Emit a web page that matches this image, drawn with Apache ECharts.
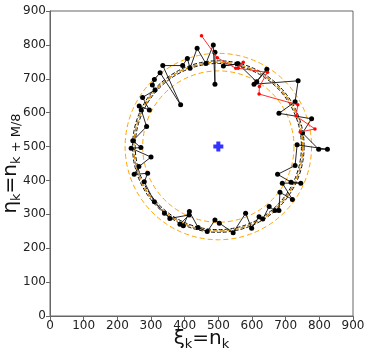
<!DOCTYPE html>
<html>
<head>
<meta charset="utf-8">
<script src="https://cdn.jsdelivr.net/npm/echarts@6/dist/echarts.min.js"></script>
<style>
  html, body { margin: 0; padding: 0; background: #fff; }
  #chart { width: 371px; height: 354px; }
</style>
</head>
<body>
<div id="chart"></div>
<script>
// centre of the ring
var centre = [500, 500];
// dashed reference circles (radius)
var outerRings = [224, 276];
var bandBlack = [246, 254];
var bandOrange = [250];

// black trajectory (xi, eta)
var xiBlack = [490, 490, 485, 463, 437, 416, 408, 394, 335, 388, 327, 310, 304, 312, 275, 295, 265, 271, 287, 246,
  270, 241, 300, 264, 250, 290, 280, 310, 340, 356, 413, 386, 396, 414, 440, 467, 490, 503, 544, 581,
  599, 621, 632, 651, 668, 680, 683, 720, 690, 745, 716, 676, 728, 734, 824, 798, 750, 777, 680, 728,
  737, 606, 644, 614, 559, 515, 556];
var etaBlack = [778, 684, 800, 745, 790, 731, 760, 739, 739, 623, 718, 698, 682, 667, 645, 608, 620, 608, 559, 517,
  497, 495, 469, 441, 418, 421, 396, 337, 303, 288, 298, 271, 266, 308, 261, 249, 283, 274, 246, 303,
  259, 293, 286, 323, 311, 311, 365, 344, 392, 392, 395, 418, 444, 505, 492, 492, 540, 582, 598, 632,
  694, 684, 728, 691, 744, 738, 744];

// red trajectory
var xiRed = [450, 497, 552, 574, 559, 646, 622, 621, 736, 731, 787, 743];
var etaRed = [827, 762, 731, 749, 731, 719, 677, 655, 623, 590, 552, 543];

function pairs(xs, ys) {
  var out = [];
  for (var i = 0; i < xs.length; i++) out.push([xs[i], ys[i]]);
  return out;
}

function ringSeries(radii, color, width, dash, z) {
  var data = [];
  for (var i = 0; i < radii.length; i++) data.push([centre[0], centre[1], radii[i]]);
  return {
    type: 'custom',
    z: z,
    silent: true,
    data: data,
    renderItem: function (params, api) {
      var c = api.coord([api.value(0), api.value(1)]);
      var s = api.size([api.value(2), api.value(2)]);
      return {
        type: 'circle',
        shape: { cx: c[0], cy: c[1], r: (s[0] + s[1]) / 2 },
        style: { fill: 'none', stroke: color, lineWidth: width, lineDash: dash }
      };
    }
  };
}

var chart = echarts.init(document.getElementById('chart'));
chart.setOption({
  animation: false,
  grid: {
    left: 50, right: 18, top: 11, bottom: 38,
    containLabel: false, outerBoundsMode: 'none',
    show: true, borderColor: '#666', borderWidth: 1
  },
  xAxis: {
    type: 'value', min: 0, max: 900, interval: 100,
    name: 'ξ{s|k}=n{s|k}', nameLocation: 'middle', nameGap: 10, nameMoveOverlap: false,
    nameTextStyle: {
      fontFamily: 'DejaVu Sans', fontSize: 20, color: '#111',
      rich: { s: { fontFamily: 'DejaVu Sans', fontSize: 13, color: '#111', verticalAlign: 'bottom', padding: [12, 0, 0, 0] } }
    },
    axisLine: { show: true, onZero: false, lineStyle: { color: '#666' } },
    axisTick: { show: true, length: 4, lineStyle: { color: '#666' } },
    axisLabel: { fontFamily: 'DejaVu Sans', fontSize: 12, color: '#222', margin: 4 },
    splitLine: { show: false }
  },
  yAxis: {
    type: 'value', min: 0, max: 900, interval: 100,
    name: 'η{s|k}=n{s|k + M/8}', nameLocation: 'middle', nameGap: 27, nameMoveOverlap: false,
    nameTextStyle: {
      fontFamily: 'DejaVu Sans', fontSize: 20, color: '#111',
      rich: { s: { fontFamily: 'DejaVu Sans', fontSize: 13, color: '#111', verticalAlign: 'bottom', padding: [12, 0, 0, 0] } }
    },
    axisLine: { show: true, onZero: false, lineStyle: { color: '#666' } },
    axisTick: { show: true, length: 4, lineStyle: { color: '#666' } },
    axisLabel: { fontFamily: 'DejaVu Sans', fontSize: 12, color: '#222', margin: 4 },
    splitLine: { show: false }
  },
  series: [
    ringSeries(outerRings, '#ffa500', 1, [5, 3], 1),
    ringSeries(bandBlack, '#111', 1, [4, 2], 2),
    ringSeries(bandOrange, '#d08a00', 1.3, [5, 2], 3),
    {
      type: 'line', z: 4,
      data: pairs(xiBlack, etaBlack),
      symbol: 'circle', symbolSize: 5,
      itemStyle: { color: '#000' },
      lineStyle: { color: '#111', width: 0.9 }
    },
    {
      type: 'line', z: 5,
      data: pairs(xiRed, etaRed),
      symbol: 'circle', symbolSize: 3.5,
      itemStyle: { color: '#ff0000' },
      lineStyle: { color: '#ff1a1a', width: 0.9 }
    },
    {
      type: 'scatter', z: 6,
      data: [centre],
      symbol: 'path://M3,0H7V3H10V7H7V10H3V7H0V3H3Z',
      symbolSize: 10,
      itemStyle: { color: '#0000ff' }
    }
  ]
});
</script>
</body>
</html>
